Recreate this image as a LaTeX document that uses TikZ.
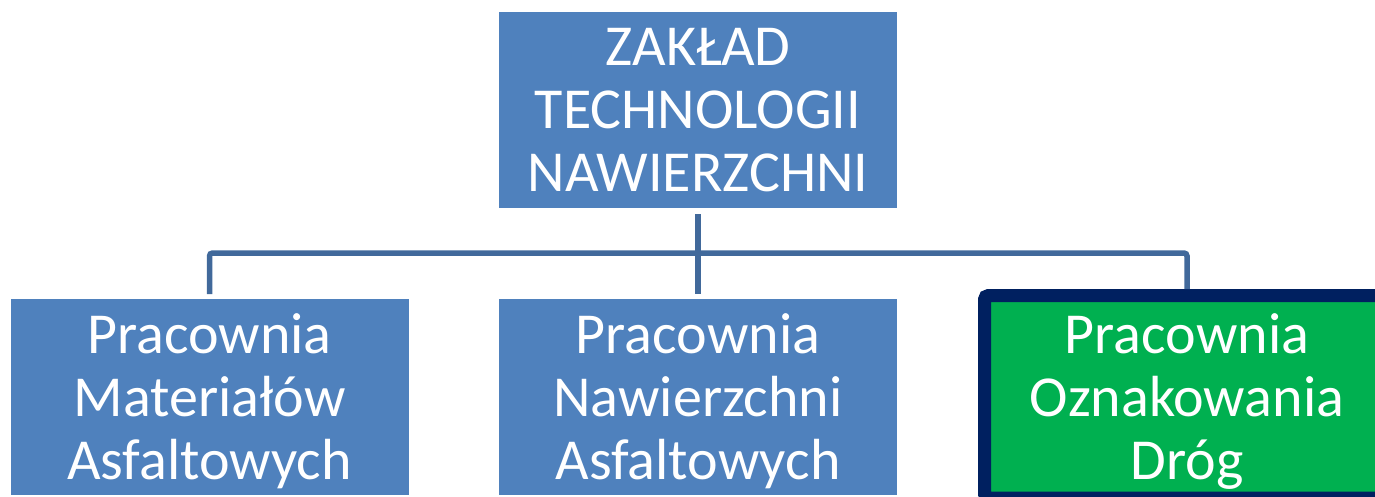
\documentclass[tikz,border=0pt]{standalone}
\usepackage{fontspec}
\setmainfont{Carlito}
\definecolor{boxblue}{HTML}{4F81BD}
\definecolor{linkblue}{HTML}{41699B}
\definecolor{navyedge}{HTML}{002060}
\definecolor{labgreen}{HTML}{00B050}
\begin{document}
\begin{tikzpicture}[x=1pt,y=-1pt,
  txt/.style={text=white, inner sep=0pt, outer sep=0pt, align=center, text depth=0pt,
    font=\fontsize{58}{63}\selectfont},
  box/.style={txt, rectangle, fill=boxblue, minimum width=398pt, minimum height=196pt},
  labbox/.style={rectangle, fill=labgreen, draw=navyedge, line width=13pt,
    rounded corners=4pt, inner sep=0pt, outer sep=0pt, minimum width=470pt, minimum height=202pt},
  conn/.style={draw=linkblue, line width=5.5pt}]
\useasboundingbox (0,0) rectangle (1375,497);
\clip (0,0) rectangle (1375,497);
\node[box] (top) at (698,110) {ZAKŁAD\\TECHNOLOGII\\NAWIERZCHNI};
\node[box] (left) at (209.5,397) {Pracownia\\Materiałów\\Asfaltowych};
\node[box] (mid) at (698,397) {Pracownia\\Nawierzchni\\Asfaltowych};
\path[labbox] (984.5,295.5) rectangle (1460,498);
\node[txt] (right) at (1187,396.5) {Pracownia\\Oznakowania\\Dróg};
\coordinate (rtop) at (1187,289);
\coordinate (bus) at (698,253);
\draw[conn] ([yshift=-6pt]top.south) -- ([yshift=5pt]mid.north);
\draw[conn, rounded corners=3pt] ([yshift=5pt]left.north) |- (bus) -| (rtop);
\end{tikzpicture}
\end{document}
